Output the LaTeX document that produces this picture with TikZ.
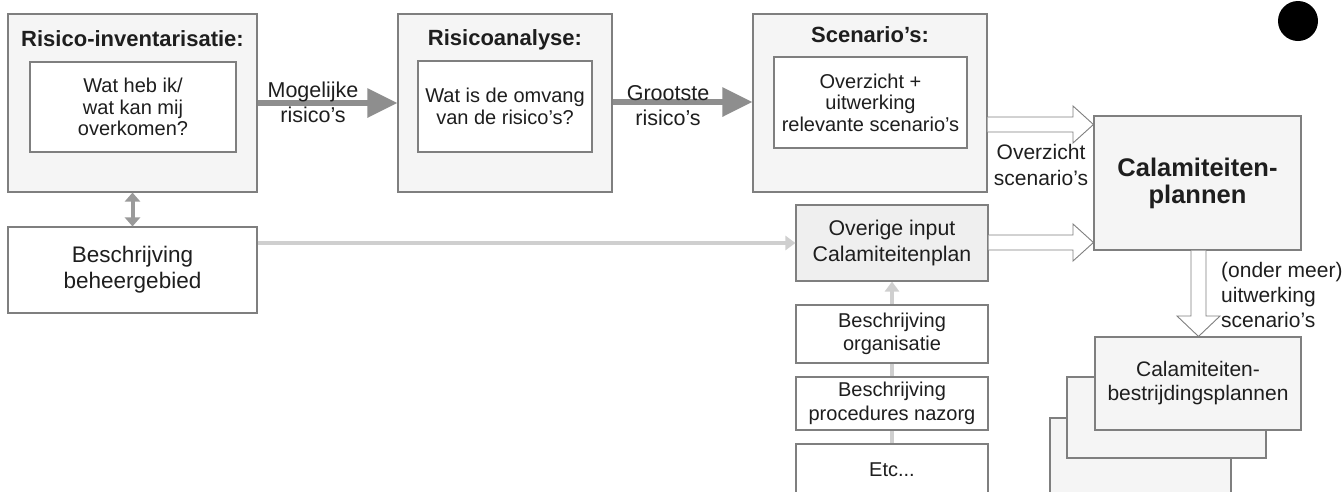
\documentclass[tikz,border=0pt]{standalone}
\usepackage{fontspec}
\setmainfont{Liberation Sans}
\usetikzlibrary{arrows.meta,calc}
\definecolor{bord}{HTML}{7F7F7F}
\definecolor{lightfill}{HTML}{F5F5F5}
\definecolor{midfill}{HTML}{EFEFEF}
\definecolor{arrowgray}{HTML}{8E8E8E}
\definecolor{palegray}{HTML}{CFCFCF}
\definecolor{dblgray}{HTML}{9A9A9A}
\definecolor{txt}{HTML}{1E1E1E}
\begin{document}
\begin{tikzpicture}[x=1pt,y=-1pt,
  every node/.style={text=txt},
  outerbox/.style={draw=bord, line width=1.1pt, fill=lightfill, inner sep=0pt},
  innerbox/.style={draw=bord, line width=1.1pt, fill=white, inner sep=0pt, align=center,
     font=\fontsize{20}{21.5}\selectfont},
  titletext/.style={font=\bfseries\fontsize{22}{24}\selectfont, inner sep=0pt},
  whitebox/.style={draw=bord, line width=1.1pt, fill=white, inner sep=0pt, align=center,
     minimum width=192pt, font=\fontsize{20}{23.5}\selectfont},
  greybox/.style={draw=bord, line width=1.1pt, fill=midfill, inner sep=0pt, align=center},
  stackbox/.style={draw=bord, line width=1.1pt, fill=lightfill, inner sep=0pt, align=center},
  labeltext/.style={align=center, inner sep=0pt, font=\fontsize{21.5}{25}\selectfont},
  thickarrow/.style={draw=arrowgray, line width=6pt, -{Triangle[length=30pt,width=28pt]}},
  palearrow/.style={draw=palegray, line width=4pt, -{Triangle[length=10pt,width=14pt]}},
  dblarrow/.style={draw=dblgray, line width=4pt, {Triangle[length=9pt,width=15pt]}-{Triangle[length=9pt,width=15pt]}},
  hollow/.style={draw=bord, fill=white, line width=0.9pt, line join=miter}
]
\path[use as bounding box] (0,0) rectangle (1344,491);
\clip (0,0) rectangle (1344,491);

% ---- top row ----
\node[outerbox, minimum width=249pt, minimum height=178pt] (ri) at (132.5,103) {};
\node[titletext] (rit) at (132.5,39) {Risico-inventarisatie:};
\node[innerbox, minimum width=206pt, minimum height=90pt] (rii) at (133,107)
  {Wat heb ik/\\wat kan mij\\overkomen?};

\node[outerbox, minimum width=214pt, minimum height=178pt] (ra) at (505,103) {};
\node[titletext] (rat) at (505,40) {Risicoanalyse:};
\node[innerbox, minimum width=174pt, minimum height=91pt] (rai) at (505,106.5)
  {Wat is de omvang\\van de risico’s?};

\node[outerbox, minimum width=234pt, minimum height=178pt] (sc) at (870,103) {};
\node[titletext] (sct) at (870,34.5) {Scenario’s:};
\node[innerbox, minimum width=193pt, minimum height=91pt] (sci) at (870.5,102.5)
  {Overzicht +\\uitwerking\\relevante scenario’s};

\node[outerbox, minimum width=207pt, minimum height=134pt, align=center,
      font=\bfseries\fontsize{25.5}{27}\selectfont] (cp) at (1197.5,183)
  {Calamiteiten-\\plannen};

\fill[black] (1298,21) circle (20pt);

% thick arrows
\draw[thickarrow] (ri.east) -- (ra.west);
\draw[thickarrow] ($(ra.east)+(0,-1)$) -- ($(sc.west)+(0,-1)$);
\node[labeltext] (l1) at (313,102.5) {Mogelijke\\risico’s};
\node[labeltext] (l2) at (668,105.5) {Grootste\\risico’s};

% ---- second row ----
\node[whitebox, minimum width=249pt, minimum height=86pt, font=\fontsize{22.5}{26}\selectfont] (beh) at (132.5,270)
  {Beschrijving\\beheergebied};
\draw[dblarrow] (ri.south) -- (beh.north);

% pale vertical arrow behind the left column
\coordinate (vstart) at (892,444);
\draw[palearrow] (vstart) -- (892,281.5);

\node[greybox, minimum width=192pt, minimum height=76pt, font=\fontsize{21.3}{26}\selectfont] (ov) at (892,243)
  {Overige input\\Calamiteitenplan};
\node[whitebox, minimum height=58pt] (bo) at (892,334) {Beschrijving\\organisatie};
\node[whitebox, minimum height=53pt] (bp) at (892,403.5) {Beschrijving\\procedures nazorg};
\node[whitebox, minimum height=52pt] (etc) at (892,470) {Etc...};

\draw[palearrow] (beh.east |- ov.west) -- (ov.west);

% hollow arrows to Calamiteitenplannen
\draw[hollow] (sc.east |- 0,117) -- (1073,117) -- (1073,106) -- (cp.west |- 0,124.5)
  -- (1073,143) -- (1073,132) -- (sc.east |- 0,132);
\draw[hollow] (ov.east |- 0,235) -- (1073,235) -- (1073,224) -- (cp.west |- 0,242.5)
  -- (1073,261) -- (1073,250) -- (ov.east |- 0,250);
\node[labeltext, font=\fontsize{21}{26}\selectfont] (l3) at (1041,165) {Overzicht\\scenario’s};

% ---- stack of plans ----
\node[stackbox, minimum width=181pt, minimum height=90pt] (st3) at (1140.5,463) {};
\node[stackbox, minimum width=199pt, minimum height=81pt] (st2) at (1166.5,417.5) {};
\node[stackbox, minimum width=206pt, minimum height=93pt, font=\fontsize{21}{24}\selectfont] (st1) at (1198,383.5)
  {Calamiteiten-\\bestrijdingsplannen};

\draw[hollow] (cp.south -| 1191,0) -- (1191,316) -- (1177,316) -- (st1.north -| 1198.5,0)
  -- (1220,316) -- (1206,316) -- (cp.south -| 1206,0);
\node[labeltext, align=left, anchor=west, font=\fontsize{21}{25}\selectfont] (l4) at (1221,295)
  {(onder meer)\\uitwerking\\scenario’s};
\end{tikzpicture}
\end{document}
